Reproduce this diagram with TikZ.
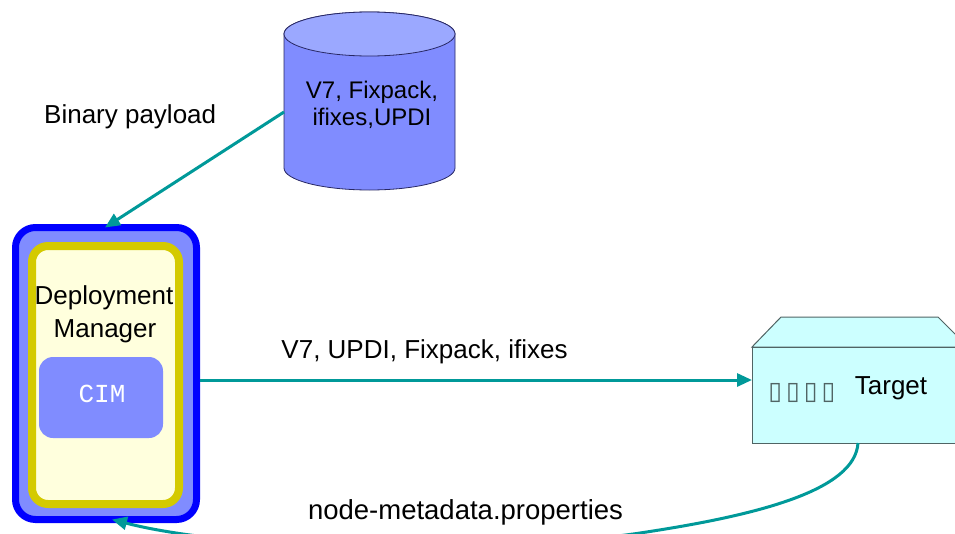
\documentclass[tikz,border=0pt]{standalone}
\usepackage{fontspec}
\setmainfont{Liberation Sans}
\setmonofont{Liberation Mono}
\newfontfamily\symfont{DejaVu Sans}
\usetikzlibrary{arrows.meta}
\definecolor{teal1}{RGB}{0,153,153}
\definecolor{bluebd}{RGB}{0,0,255}
\definecolor{bluefill}{RGB}{128,140,255}
\definecolor{bluetop}{RGB}{155,168,255}
\definecolor{yelbd}{RGB}{212,202,0}
\definecolor{yelfill}{RGB}{255,255,221}
\definecolor{cyanfill}{RGB}{204,255,255}
\definecolor{cyanbd}{RGB}{80,100,100}
\definecolor{cylbd}{RGB}{40,40,100}
\tikzset{
  lbl/.style={font=\fontsize{26}{30}\selectfont, inner sep=0pt},
  conn/.style={draw=teal1, line width=3pt, -{Triangle[length=15pt,width=13pt]}},
  box/.style={inner sep=0pt, outer sep=0pt}
}
\begin{document}
\begin{tikzpicture}[x=1pt,y=-1pt]
\useasboundingbox (0,0) rectangle (955,533);
\clip (0,0) rectangle (955,533);
% Database cylinder
\node[box, minimum width=171pt, minimum height=178pt] (db) at (369.5,101) {};
\fill[bluefill, draw=cylbd, line width=0.8pt] (284,34) -- (284,168) arc[start angle=180, end angle=0, x radius=85.5, y radius=22] -- (455,34) arc[start angle=0, end angle=180, x radius=85.5, y radius=-22] -- cycle;
\filldraw[fill=bluetop, draw=cylbd, line width=0.8pt] (369.5,34) ellipse[x radius=85.5, y radius=22];
\node[lbl, font=\fontsize{24}{28}\selectfont, align=center, anchor=base] (dbt1) at (372,98) {V7, Fixpack,};
\node[lbl, font=\fontsize{24}{28}\selectfont, align=center, anchor=base] (dbt2) at (372,125) {ifixes,UPDI};
% Deployment manager
\node[box, draw=bluebd, fill=bluefill, line width=7pt, rounded corners=20pt, minimum width=181pt, minimum height=292pt] (dm) at (106,373.5) {};
\node[box, draw=yelbd, fill=yelfill, line width=8pt, rounded corners=16pt, minimum width=147pt, minimum height=258pt] (dmi) at (105.5,375) {};
\node[lbl, anchor=base] (dmt1) at (104,304) {Deployment};
\node[lbl, anchor=base] (dmt2) at (105,337) {Manager};
\node[box, fill=bluefill, rounded corners=14pt, minimum width=124pt, minimum height=81pt] (cim) at (101,397.5) {};
\node[lbl, anchor=base, text=white, font=\ttfamily\fontsize{26}{30}\selectfont] (cimt) at (102,402) {CIM};
% Target
\filldraw[fill=cyanfill, draw=cyanbd, line width=1pt] (752,347) -- (781,317) -- (938,317) -- (968,347) -- cycle;
\node[box, draw=cyanbd, fill=cyanfill, line width=1pt, minimum width=215pt, minimum height=96pt] (target) at (859.5,395) {};
\node[lbl, anchor=base] (tgt) at (891,394) {Target};
\node[inner sep=0pt, anchor=base, text=cyanbd, font=\symfont\fontsize{25}{30}\selectfont] (tofu) at (802,399) {▯\hspace{4pt}▯\hspace{4pt}▯\hspace{4pt}▯};
% Labels
\node[lbl, anchor=base west] (bp) at (44,123) {Binary payload};
\node[lbl, anchor=base] (l2) at (424.5,358) {V7, UPDI, Fixpack, ifixes};
\node[lbl, anchor=base, font=\fontsize{27.5}{30}\selectfont] (l3) at (465.5,519) {node-metadata.properties};
% Connectors
\draw[conn] ([yshift=-11pt]db.west) -- ([xshift=-1pt]dm.north);
\draw[conn, shorten <=3pt] ([yshift=-6.5pt]dm.east) -- ([yshift=15pt]target.west);
\coordinate (dip) at (640,533);
\draw[conn] ([xshift=-1.5pt]target.south) .. controls (855,490) and (760,515) .. (dip) .. controls (520,551) and (250,555) .. ([xshift=6pt]dm.south);
\end{tikzpicture}
\end{document}
